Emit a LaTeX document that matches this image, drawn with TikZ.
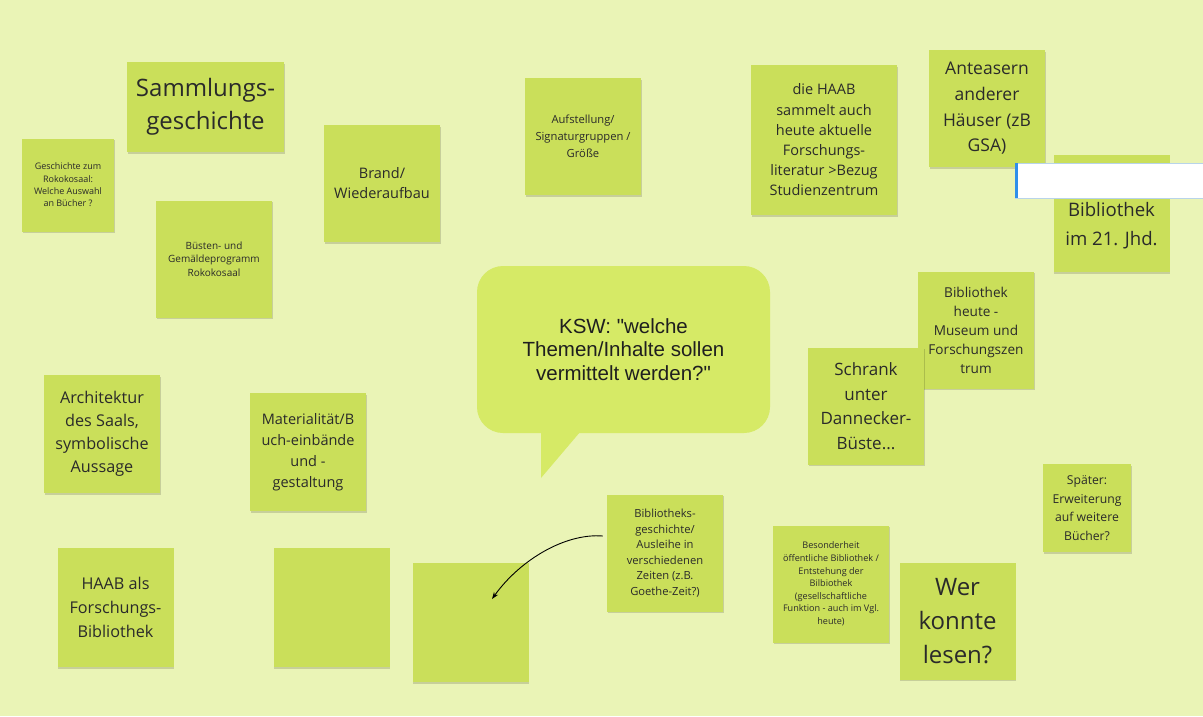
\documentclass[tikz,border=0pt]{standalone}
\usepackage{fontspec}
\setmainfont{Open Sans}
\newfontfamily\arialfont{Liberation Sans}
\usetikzlibrary{shadows,arrows.meta}
\definecolor{bgc}{HTML}{EAF4B6}
\definecolor{notec}{HTML}{CADF5A}
\definecolor{bubc}{HTML}{D6EA66}
\definecolor{txtc}{HTML}{2A2A2A}
\definecolor{bluebar}{HTML}{2F8FEA}
\definecolor{boxedge}{HTML}{B8D4EA}
\newcommand{\fsz}[2]{\fontsize{#1}{#2}\selectfont}
\tikzset{
  note/.style={fill=notec, inner sep=0pt, align=center, text=txtc,
    minimum width=116pt, minimum height=117pt,
    drop shadow={shadow xshift=0.6pt, shadow yshift=-1.8pt, opacity=0.15, fill=black}},
  lbl/.style={inner sep=0pt, align=center, text=txtc},
  conn/.style={line width=0.9pt, -{Stealth[length=7pt,width=5pt]}}
}
\begin{document}
\begin{tikzpicture}[x=1pt,y=-1pt]
\useasboundingbox (0,0) rectangle (1203,716);
\fill[bgc] (0,0) rectangle (1203,716);

% speech bubble
\fill[bubc] (541,425) -- (541,478) -- (586,425) -- cycle;
\node[fill=bubc, rounded corners=26pt, minimum width=293pt, minimum height=167pt, inner sep=0pt,
  align=center, text=black!88, font={\arialfont\fsz{20.5}{23.5}}] (ksw) at (623.5,349.5)
  {KSW: "welche\\Themen/Inhalte sollen\\vermittelt werden?"};

% notes
\node[note, minimum width=157pt, minimum height=90pt, font=\fsz{24}{33}] (sg) at (205.5,107)
  {Sammlungs-\\geschichte};
\node[note, minimum width=92pt, minimum height=93pt, font=\fsz{9}{12.4}] (gr) at (68,185)
  {Geschichte zum\\Rokokosaal:\\Welche Auswahl\\an Bücher ?};
\node[note, font=\fsz{10}{13.6}] (bg) at (214,259)
  {Büsten- und\\Gemäldeprogramm\\Rokokosaal};
\node[note, font=\fsz{14.5}{20}] (br) at (382,183.5)
  {Brand/\\Wiederaufbau};
\node[note, font=\fsz{11.2}{16.8}] (au) at (583,136.5)
  {Aufstellung/\\Signaturgruppen /\\Größe};
\node[note, minimum width=146pt, minimum height=150pt, font=\fsz{14.5}{20.2}] (ha) at (824,140)
  {die HAAB\\sammelt auch\\heute aktuelle\\Forschungs-\\literatur >Bezug\\Studienzentrum};
\node[note, font=\fsz{17.5}{25.7}] (an) at (987,108.5)
  {Anteasern\\anderer\\Häuser (zB\\GSA)};
\node[note] (bj) at (1111.5,213.5) {};
\node[lbl, font=\fsz{18.6}{29}] (bjt) at (1111.5,226) {Bibliothek\\im 21. Jhd.};
\node[note, font=\fsz{13.6}{19}] (bh) at (976,330)
  {Bibliothek\\heute -\\Museum und\\Forschungszen\\trum};
\node[note, font=\fsz{17}{24.6}] (sd) at (866,406)
  {Schrank\\unter\\Dannecker-\\Büste...};
\node[note, minimum width=88pt, minimum height=88pt, font=\fsz{12.2}{18.5}] (sp) at (1087,508)
  {Später:\\Erweiterung\\auf weitere\\Bücher?};
\node[note, font=\fsz{9.1}{12.6}] (bs) at (831,584)
  {Besonderheit\\öffentliche Bibliothek /\\Entstehung der\\Bilbiothek\\(gesellschaftliche\\Funktion - auch im Vgl.\\heute)};
\node[note, font=\fsz{24}{34}] (wk) at (957.5,621)
  {Wer\\konnte\\lesen?};
\node[note, font=\fsz{11.2}{15.5}] (bb) at (665,553)
  {Bibliotheks-\\geschichte/\\Ausleihe in\\verschiedenen\\Zeiten (z.B.\\Goethe-Zeit?)};
\node[note, minimum height=119pt] (e1) at (470.5,622.5) {};
\node[note, minimum height=119pt] (e2) at (331.5,607.5) {};
\node[note, minimum height=119pt, font=\fsz{16.2}{23.6}] (hf) at (115.5,607.5)
  {HAAB als\\Forschungs-\\Bibliothek};
\node[note, minimum height=118pt, font=\fsz{14.5}{21}] (ma) at (308,452)
  {Materialität/B\\uch-einbände\\und -\\gestaltung};
\node[note, minimum height=118pt, font=\fsz{16.2}{23}] (ar) at (102,434)
  {Architektur\\des Saals,\\symbolische\\Aussage};

% white input box
\node[fill=white, draw=boxedge, line width=0.8pt, minimum width=200pt, minimum height=35pt,
  inner sep=0pt, anchor=west] (inp) at (1015,180.5) {};
\fill[bluebar] (1014.6,163) rectangle (1018,198);

% arrow
\coordinate (ae) at (492,599);
\draw[conn] ([xshift=-4pt,yshift=17pt]bb.west) .. controls (565,533) and (520,560) .. (ae);
\end{tikzpicture}
\end{document}
